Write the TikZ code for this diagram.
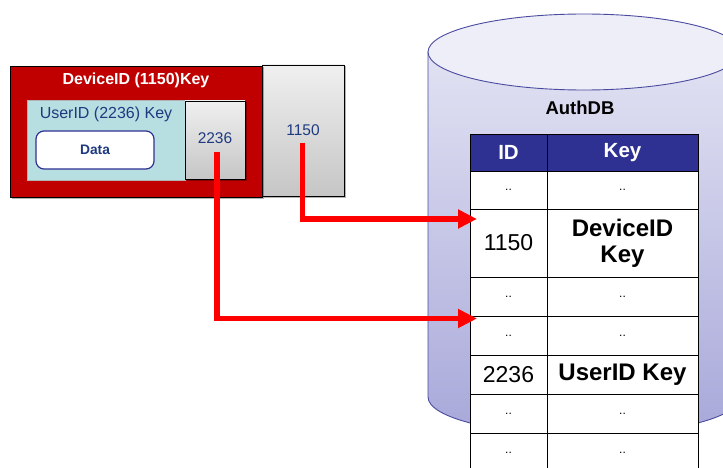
\documentclass[tikz,border=0pt]{standalone}
\usepackage{fontspec}
\setmainfont{Liberation Sans}
\usetikzlibrary{arrows.meta,shadows}

\definecolor{boxred}{HTML}{C00000}
\definecolor{keyteal}{HTML}{B7DEE0}
\definecolor{navy}{HTML}{1F3A80}
\definecolor{hdrblue}{HTML}{2E3192}
\definecolor{dbline}{HTML}{4A4AA0}
\definecolor{dbtop}{HTML}{E2E2F3}
\definecolor{dblid}{HTML}{EEEEF8}
\definecolor{dbbottom}{HTML}{A8A8DA}
\definecolor{linkred}{HTML}{FF0000}

\tikzset{
  boxshadow/.style={drop shadow={shadow xshift=1.5pt,shadow yshift=-1.5pt,opacity=0.3,fill=black}},
  graybox/.style={draw=black,line width=0.9pt,top color=gray!12,bottom color=gray!45,
    rectangle,inner sep=0pt,boxshadow},
  cell/.style={draw=black,line width=0.8pt,fill=white,rectangle,inner sep=0pt,
    align=center,font=\fontsize{23}{25}\selectfont},
  idcell/.style={cell,minimum width=77pt},
  keycell/.style={cell,minimum width=151pt},
  hdrcell/.style={fill=hdrblue,text=white,font=\bfseries\fontsize{20.5}{22}\selectfont},
  boldcell/.style={font=\bfseries\fontsize{24}{26}\selectfont},
  dots/.style={font=\fontsize{12}{12}\selectfont},
  pkglabel/.style={font=\fontsize{16}{18}\selectfont,text=navy},
  link/.style={draw=linkred,line width=5.5pt,-{Triangle[length=19pt,width=18pt]}},
}

\begin{document}
\begin{tikzpicture}[x=1pt,y=-1pt]
\useasboundingbox (0,0) rectangle (723,468);

% ---- database cylinder ----
\begin{scope}
  \clip (0,0) rectangle (723,468);
  \path[draw=dbline,line width=0.9pt,top color=dbtop,bottom color=dbbottom]
    (428,52) -- (428,397)
    arc[start angle=180,end angle=0,x radius=156,y radius=38]
    -- (740,52) -- cycle;
  \path[draw=dbline,line width=0.9pt,fill=dblid]
    (584,52) ellipse[x radius=156,y radius=38];
\end{scope}
\node[font=\bfseries\fontsize{18.5}{20}\selectfont] (authdb) at (580,108) {AuthDB};

% ---- key table ----
\node[idcell,hdrcell,minimum height=37pt] (hid) at (508.5,152.5) {ID};
\node[keycell,hdrcell,minimum height=37pt] (hkey) at (622.5,152.5) {Key};

\node[idcell,minimum height=38pt,dots] (r1id) at (508.5,190) {..};
\node[keycell,minimum height=38pt,dots] (r1key) at (622.5,190) {..};

\node[idcell,minimum height=68pt] (r2id) at (508.5,243) {1150};
\node[keycell,minimum height=68pt,boldcell] (r2key) at (622.5,243) {DeviceID\\Key};

\node[idcell,minimum height=39pt,dots] (r3id) at (508.5,296.5) {..};
\node[keycell,minimum height=39pt,dots] (r3key) at (622.5,296.5) {..};

\node[idcell,minimum height=39pt,dots] (r4id) at (508.5,335.5) {..};
\node[keycell,minimum height=39pt,dots] (r4key) at (622.5,335.5) {..};

\node[idcell,minimum height=39pt] (r5id) at (508.5,374.5) {2236};
\node[keycell,minimum height=39pt,boldcell] (r5key) at (622.5,374.5) {UserID Key};

\node[idcell,minimum height=39pt,dots] (r6id) at (508.5,413.5) {..};
\node[keycell,minimum height=39pt,dots] (r6key) at (622.5,413.5) {..};

\node[idcell,minimum height=39pt,dots] (r7id) at (508.5,452.5) {..};
\node[keycell,minimum height=39pt,dots] (r7key) at (622.5,452.5) {..};

% ---- encrypted package ----
\node[graybox,minimum width=82pt,minimum height=131pt] (dev) at (303,130.5) {};
\node[pkglabel,font=\fontsize{15.5}{17}\selectfont] (devid) at (303,130) {1150};

\node[draw=black,line width=0.9pt,fill=boxred,minimum width=252pt,minimum height=131pt,
  inner sep=0pt,boxshadow] (outer) at (136,131.5) {};
\node[font=\bfseries\fontsize{16}{18}\selectfont,text=white] (outerlbl) at (136,80) {DeviceID (1150)Key};

\node[fill=keyteal,draw=gray!60,line width=0.5pt,minimum width=158pt,minimum height=80pt,
  inner sep=0pt] (user) at (106,140) {};
\node[pkglabel] (userlbl) at (106,114) {UserID (2236) Key};

\node[graybox,minimum width=60pt,minimum height=78pt] (usr) at (215,140) {};
\node[pkglabel,font=\fontsize{15.5}{17}\selectfont] (usrid) at (215,138) {2236};

\node[draw=hdrblue,line width=1.2pt,fill=white,rounded corners=8pt,minimum width=118pt,
  minimum height=38pt,inner sep=0pt,font=\bfseries\fontsize{13.8}{15}\selectfont,text=navy]
  (data) at (95,150) {Data};

% ---- lookups into the table ----
\coordinate (s1) at (302.5,143);
\coordinate (t1) at (477,219);
\coordinate (s2) at (217,152);
\coordinate (t2) at (477,318.5);
\draw[link] (s1) |- (t1);
\draw[link] (s2) |- (t2);
\end{tikzpicture}
\end{document}
